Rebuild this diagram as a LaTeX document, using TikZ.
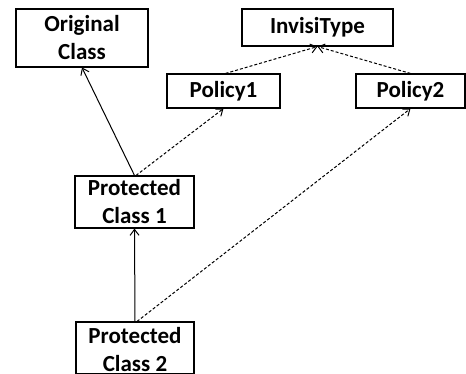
\documentclass[tikz,border=0pt]{standalone}
\usepackage{fontspec}
\setmainfont{Carlito}
\usetikzlibrary{arrows.meta}
\begin{document}
\begin{tikzpicture}[x=1pt,y=-1pt,
  lbl/.style={font=\fontsize{23}{28}\selectfont\bfseries},
  box/.style={draw,line width=1.1pt,inner sep=0pt,align=center,lbl},
  solidarr/.style={line width=1pt,-{Straight Barb[length=6pt,width=9pt]}},
  dasharr/.style={line width=1pt,dash pattern=on 3pt off 2pt,-{Straight Barb[length=6pt,width=9pt]}}]
\useasboundingbox (0,0) rectangle (466,373);
\clip (0,0) rectangle (466,373);
\node[box,minimum width=132pt,minimum height=58pt] (oc) at (82,38) {Original\\Class};
\node[box,minimum width=151pt,minimum height=37pt] (inv) at (317.5,27.5) {InvisiType};
\node[box,minimum width=113pt,minimum height=34pt] (p1) at (223.5,91) {Policy1};
\node[box,minimum width=109pt,minimum height=34pt] (p2) at (410.5,91) {Policy2};
\node[box,minimum width=119pt,minimum height=52pt] (pc1) at (134.5,202) {Protected\\Class 1};
\node[box,minimum width=118pt,minimum height=52pt] (pc2) at (135,348) {};
\node[lbl,align=center,inner sep=0pt,anchor=south] (pc2t) at (135,372) {Protected\\Class 2};
\draw[solidarr] (pc1.north) -- (oc.south);
\draw[dasharr] ([xshift=1.5pt]pc1.north) -- (p1.south);
\draw[dasharr] ([xshift=2pt]p1.north) -- (inv.south);
\draw[dasharr] (p2.north) -- (inv.south);
\draw[solidarr] (pc2.north) -- (pc1.south);
\draw[dasharr] ([xshift=2pt]pc2.north) -- (p2.south);
\end{tikzpicture}
\end{document}
